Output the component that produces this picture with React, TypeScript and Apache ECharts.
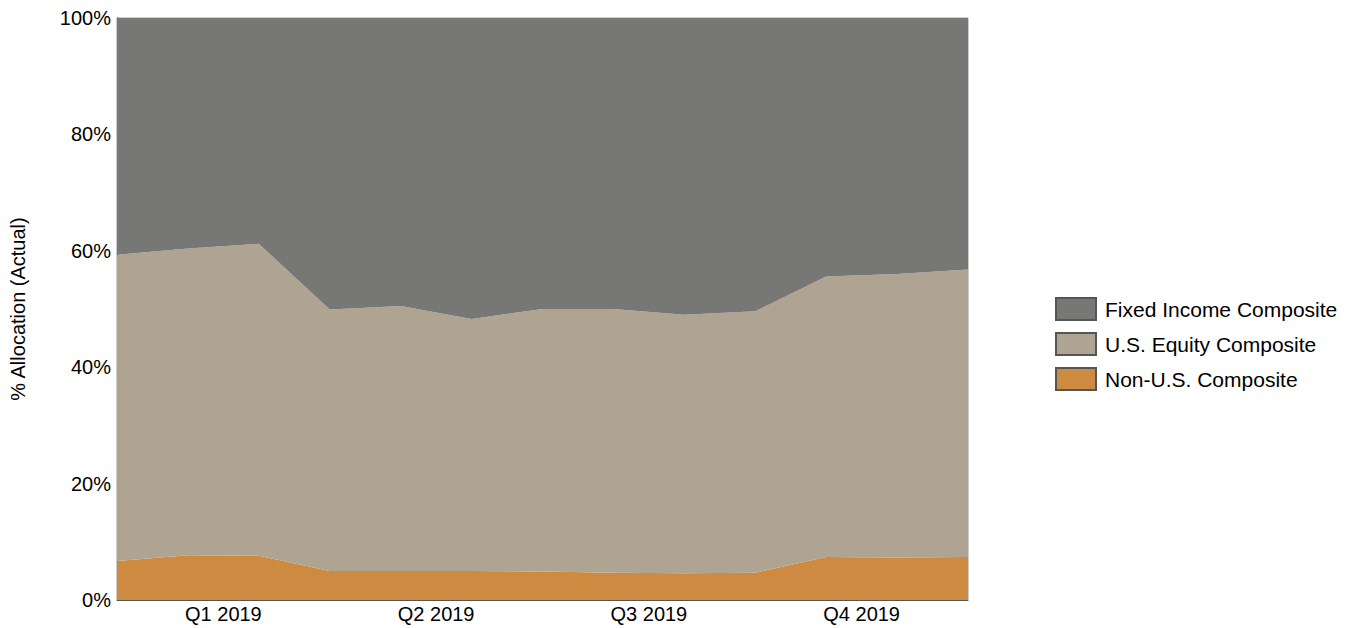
import React, { useEffect, useRef } from "react";
import * as echarts from "echarts";

const periods = [
  "Dec 2018", "Jan 2019", "Feb 2019", "Mar 2019", "Apr 2019", "May 2019", "Jun 2019",
  "Jul 2019", "Aug 2019", "Sep 2019", "Oct 2019", "Nov 2019", "Dec 2019",
];
const quarterLabels = ["Q1 2019", "Q2 2019", "Q3 2019", "Q4 2019"];
const nonUS = [6.7, 7.7, 7.6, 5.0, 5.0, 5.0, 4.9, 4.7, 4.6, 4.7, 7.4, 7.3, 7.4];
const usEquity = [52.6, 52.7, 53.6, 44.9, 45.5, 43.3, 45.1, 45.3, 44.4, 44.9, 48.2, 48.7, 49.4];
const fixedIncome = [40.7, 39.6, 38.8, 50.1, 49.5, 51.7, 50.0, 50.0, 51.0, 50.4, 44.4, 44.0, 43.2];
const yTicks = [0, 20, 40, 60, 80, 100];

const FONT = "'Liberation Sans', Arial, sans-serif";

export default function App() {
  const ref = useRef<HTMLDivElement>(null);
  useEffect(() => {
    if (!ref.current) return;
    const chart = echarts.init(ref.current, null, { renderer: "svg" });
    // quarter label sits mid-quarter between month-end points
    const quarterPos = (v: number) => {
      const idx = Math.round((v - 1.5) / 3);
      if (Math.abs(v - (1.5 + idx * 3)) < 1e-6 && idx >= 0 && idx < quarterLabels.length) return quarterLabels[idx];
      return "";
    };
    const mk = (name: string, data: number[], color: string) => ({
      name,
      type: "line",
      stack: "total",
      xAxisIndex: 0,
      data,
      symbol: "none",
      showSymbol: false,
      lineStyle: { width: 0 },
      itemStyle: { color, borderColor: "#555", borderWidth: 1 },
      areaStyle: { color, opacity: 1 },
    });
    chart.setOption({
      animation: false,
      textStyle: { fontFamily: FONT },
      grid: {
        left: 116, right: 380, top: 18, bottom: 28,
        show: true, borderColor: "#9a9a9a", borderWidth: 1, backgroundColor: "transparent",
      },
      legend: {
        orient: "vertical",
        left: 1055,
        top: 297,
        padding: 0,
        itemWidth: 40,
        itemHeight: 22,
        itemGap: 11,
        icon: "rect",
        data: ["Fixed Income Composite", "U.S. Equity Composite", "Non-U.S. Composite"],
        textStyle: { fontSize: 21, color: "#000", fontFamily: FONT, padding: [0, 0, 0, 4] },
      },
      xAxis: [
        {
          type: "category",
          data: periods,
          boundaryGap: false,
          position: "bottom",
          axisLine: { show: true, lineStyle: { color: "#555", width: 1 } },
          axisTick: { show: false },
          splitLine: { show: false },
          axisLabel: { show: false },
        },
        {
          type: "value",
          position: "bottom",
          min: 0,
          max: periods.length - 1,
          interval: 1.5,
          axisLine: { show: false },
          axisTick: { show: false },
          splitLine: { show: false },
          axisLabel: {
            formatter: (v: number) => quarterPos(v),
            fontSize: 20, color: "#000", margin: 4, fontFamily: FONT,
          },
        },
      ],
      yAxis: {
        type: "value",
        min: yTicks[0],
        max: yTicks[yTicks.length - 1],
        interval: 20,
        name: "% Allocation (Actual)",
        nameLocation: "middle",
        nameGap: 89,
        nameTextStyle: { fontSize: 20, color: "#000", fontFamily: FONT },
        axisLine: { show: true, lineStyle: { color: "#000", width: 1 } },
        axisTick: { show: false },
        splitLine: { show: false },
        axisLabel: { formatter: "{value}%", fontSize: 20, color: "#000", margin: 6, fontFamily: FONT },
      },
      series: [
        mk("Non-U.S. Composite", nonUS, "#cd8a40"),
        mk("U.S. Equity Composite", usEquity, "#aea491"),
        mk("Fixed Income Composite", fixedIncome, "#777776"),
      ],
    });
    return () => chart.dispose();
  }, []);
  return (
    <div
      ref={ref}
      style={{ position: "fixed", left: 0, top: 0, width: 1348, height: 628, background: "#fff" }}
    />
  );
}
